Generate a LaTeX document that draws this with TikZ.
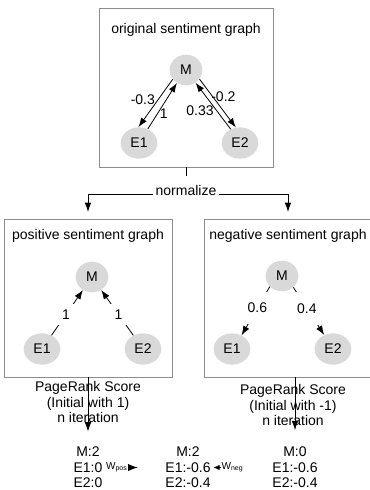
\documentclass[tikz,border=0pt]{standalone}
\usepackage{fontspec}
\setmainfont{Liberation Sans}
\usetikzlibrary{shapes.geometric,arrows.meta}

\begin{document}
\begin{tikzpicture}[
    x=0.75pt, y=-0.75pt,
    font=\fontsize{10.5}{11.6}\selectfont,
    box/.style={draw=gray!90, line width=0.6pt, rectangle, minimum width=126pt, minimum height=118.5pt},
    ent/.style={ellipse, fill=gray!30, minimum width=27.5pt, minimum height=23.5pt, inner sep=0pt},
    mnode/.style={ent, minimum width=24.5pt, minimum height=23pt},
    arrow/.style={-{Latex[length=7pt,width=5pt]}, line width=0.6pt},
    wlab/.style={fill=white, inner sep=4.5pt},
    wsub/.style={fill=white, inner sep=0.5pt, font=\fontsize{7.5}{9}\selectfont},
    score/.style={align=center, inner sep=2pt}
]
    \useasboundingbox (0,0) rectangle (370,490);

    % Original graph
    \node[box, minimum width=130.5pt, minimum height=119.25pt] (orig) at (186,87.5) {};
    \node (origt) at (186,30) {original sentiment graph};
    \node[mnode] (om) at (186,70) {M};
    \node[ent] (oe1) at (139,143) {E1};
    \node[ent] (oe2) at (240,143) {E2};

    \draw[arrow] (om.215) -- node[pos=.43, left, inner sep=2pt] (ol1) {-0.3} (oe1.92);
    \draw[arrow] (oe1.58) -- node[pos=.33, right, inner sep=1.5pt] (ol2) {1} (om.235);
    \draw[arrow] (om.326) -- node[pos=.37, right, inner sep=0pt, xshift=-1.5pt] (ol3) {-0.2} (oe2.105);
    \draw[arrow] (oe2.124) -- node[pos=.4, left, inner sep=2pt] (ol4) {0.33} (om.307);

    % Positive graph
    \node[box] (pbox) at (88,298) {};
    \node (post) at (88,236) {positive sentiment graph};
    \node[mnode] (pm) at (92,277) {M};
    \node[ent] (pe1) at (42,349) {E1};
    \node[ent] (pe2) at (143,349) {E2};

    \draw[arrow] (pe1) -- node[wlab, pos=.46] (pl1) {1} (pm);
    \draw[arrow] (pe2) -- node[wlab, pos=.46] (pl2) {1} (pm);

    % Negative graph
    \node[box] (nbox) at (288,298) {};
    \node (negt) at (288,236) {negative sentiment graph};
    \node[mnode] (nm) at (282,276) {M};
    \node[ent] (ne1) at (232,349) {E1};
    \node[ent] (ne2) at (333,349) {E2};

    \draw[arrow] (nm.221) -- node[wlab, inner sep=8.5pt, pos=.44] (nl1) {0.6} (ne1.55);
    \draw[arrow] (nm.315) -- node[wlab, inner sep=8.5pt, pos=.44] (nl2) {0.4} (ne2.122);

    % Normalize split
    \coordinate (split) at (186,194);
    \draw[arrow, shorten >=5pt] (orig.south) -- (split) -| (pbox.north);
    \draw[arrow, shorten >=5pt] (split) -| (nbox.north);
    \node[fill=white, inner xsep=2pt, inner ysep=7pt] (norm) at (186,190) {normalize};

    % PageRank scores
    \node[align=center] (prp) at (88,402) {PageRank Score\\(Initial with 1)\\n iteration};
    \node[align=center] (prn) at (293,405) {PageRank Score\\(Initial with -1)\\n iteration};
    \node[score] (pscore) at (88,467.5) {M:2\\E1:0\\E2:0};
    \node[score] (mscore) at (188,467.5) {M:2\\E1:-0.6\\E2:-0.4};
    \node[score] (nscore) at (295,467.5) {M:0\\E1:-0.6\\E2:-0.4};

    \draw[arrow, shorten >=9.5pt] (pbox.south) -- (pscore.north);
    \draw[arrow, shorten >=10.5pt] (nscore.north |- nbox.south) -- (nscore.north);

    % Weighted merge
    \draw[-{Latex[length=7.5pt,width=5.5pt]}, line width=0.6pt, shorten >=18.5pt] (pscore.east) -- node[wsub, pos=.2] (wpos) {W\textsubscript{pos}} (mscore.west);
    \draw[-{Latex[length=4.5pt,width=4pt]}, line width=0.6pt, shorten <=19pt] (nscore.west) -- node[wsub, pos=.66] (wneg) {W\textsubscript{neg}} (mscore.east);

\end{tikzpicture}
\end{document}
